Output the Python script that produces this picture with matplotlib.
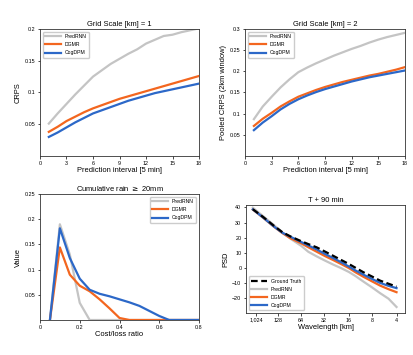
import numpy as np
import matplotlib
matplotlib.use("Agg")
import matplotlib.pyplot as plt

plt.rcParams['font.family'] = ['Liberation Sans', 'DejaVu Sans']

models = ["PredRNN", "DGMR", "CogDPM"]
colors = {"PredRNN": "#c4c4c4", "DGMR": "#f3661f", "CogDPM": "#2c68c8"}

# CRPS, grid scale 1 km
steps = list(range(1, 19))
crps_1km = {
    "PredRNN": [0.051, 0.067, 0.082, 0.097, 0.111, 0.125, 0.135, 0.145, 0.153,
                0.161, 0.168, 0.177, 0.183, 0.189, 0.191, 0.195, 0.198, 0.201],
    "DGMR": [0.038, 0.046, 0.055, 0.062, 0.069, 0.075, 0.080, 0.085, 0.090,
             0.094, 0.098, 0.102, 0.106, 0.110, 0.114, 0.118, 0.122, 0.126],
    "CogDPM": [0.030, 0.037, 0.045, 0.053, 0.060, 0.067, 0.072, 0.077, 0.082,
               0.087, 0.091, 0.095, 0.099, 0.102, 0.105, 0.108, 0.111, 0.114],
}

# Pooled CRPS, grid scale 2 km
crps_2km = {
    "PredRNN": [0.087, 0.117, 0.140, 0.162, 0.181, 0.198, 0.209, 0.219, 0.228,
                0.237, 0.245, 0.253, 0.260, 0.268, 0.275, 0.281, 0.286, 0.291],
    "DGMR": [0.071, 0.088, 0.102, 0.117, 0.129, 0.140, 0.148, 0.156, 0.163,
             0.169, 0.175, 0.180, 0.185, 0.190, 0.194, 0.199, 0.204, 0.210],
    "CogDPM": [0.061, 0.079, 0.094, 0.110, 0.123, 0.134, 0.143, 0.151, 0.158,
               0.164, 0.170, 0.176, 0.181, 0.186, 0.190, 0.194, 0.198, 0.202],
}

# Economic value, cumulative rain >= 20mm
cost_loss = [0.05, 0.1, 0.15, 0.2, 0.25, 0.3, 0.35, 0.4, 0.45, 0.5, 0.55,
             0.6, 0.65, 0.7, 0.75, 0.8]
value = {
    "PredRNN": [0.0, 0.19, 0.13, 0.034, 0.0, 0.0, 0.0, 0.0, 0.0, 0.0, 0.0,
                0.0, 0.0, 0.0, 0.0, 0.0],
    "DGMR": [0.0, 0.144, 0.09, 0.068, 0.057, 0.041, 0.023, 0.004, 0.0, 0.0,
             0.0, 0.0, 0.0, 0.0, 0.0, 0.0],
    "CogDPM": [0.0, 0.182, 0.123, 0.082, 0.06, 0.052, 0.047, 0.041, 0.035,
               0.028, 0.018, 0.008, 0.0, 0.0, 0.0, 0.0],
}

# Power spectral density at T + 90 min
wl_ticks = [0, 0.9, 1.9, 2.86, 3.92, 4.92, 5.94]
wl_labels = ["1,024", "128", "64", "32", "16", "8", "4"]
psd_x = [-0.15, 0.3, 0.73, 1.1, 1.44, 1.9, 2.2, 2.56, 2.9, 3.27, 3.6, 3.92,
         4.2, 4.54, 4.9, 5.24, 5.6, 5.94]
psd = {
    "Ground Truth": [38.8, 33.5, 28.0, 23.6, 20.8, 17.6, 15.7, 13.5, 10.8,
                     7.8, 5.1, 2.5, 0.0, -3.0, -5.8, -8.5, -10.6, -12.5],
    "PredRNN": [39.8, 34.0, 28.5, 23.5, 19.3, 14.5, 10.6, 7.5, 4.8,
                2.0, -0.3, -2.8, -5.5, -9.2, -13.0, -16.8, -20.5, -26.0],
    "DGMR": [38.6, 33.0, 27.4, 23.0, 19.6, 16.2, 13.6, 10.6, 7.8,
             5.0, 2.4, -0.2, -3.0, -6.0, -9.0, -11.8, -14.2, -16.2],
    "CogDPM": [38.7, 33.1, 27.5, 23.2, 20.6, 17.1, 14.8, 12.1, 9.2,
               6.3, 3.6, 0.8, -1.8, -4.6, -7.4, -10.0, -12.0, -13.5],
}

tick_fs = 3.9
label_fs = 5.4
title_fs = 5.4
leg_fs = 3.7
lw = 1.6


def style(ax):
    ax.tick_params(labelsize=tick_fs, length=1.8, width=0.5, pad=1.5)
    for s in ax.spines.values():
        s.set_linewidth(0.6)
        s.set_color("#333333")


def add_legend(ax, loc):
    ax.legend(loc=loc, fontsize=leg_fs, handlelength=3, borderpad=0.5,
              labelspacing=0.6, framealpha=1, edgecolor="#cccccc")


fig = plt.figure(figsize=(4.14, 3.55), dpi=100)

# top left
ax = fig.add_axes([0.0966, 0.5606, 0.3841, 0.3577])
for m in models:
    ax.plot(steps, crps_1km[m], color=colors[m], lw=lw, label=m)
ax.set_xlim(0, 18)
ax.set_ylim(0, 0.2)
ax.set_xticks([0, 3, 6, 9, 12, 15, 18])
ax.set_yticks([0.05, 0.1, 0.15, 0.2])
ax.set_yticklabels(["0.05", "0.1", "0.15", "0.2"])
ax.set_title("Grid Scale [km] = 1", fontsize=title_fs, pad=2)
ax.set_xlabel("Prediction interval [5 min]", fontsize=label_fs, labelpad=1)
ax.set_ylabel("CRPS", fontsize=label_fs, labelpad=2)
add_legend(ax, "upper left")
style(ax)

# top right
ax = fig.add_axes([0.5918, 0.5606, 0.3865, 0.3577])
for m in models:
    ax.plot(steps, crps_2km[m], color=colors[m], lw=lw, label=m)
ax.set_xlim(0, 18)
ax.set_ylim(0, 0.3)
ax.set_xticks([0, 3, 6, 9, 12, 15, 18])
ax.set_yticks([0.05, 0.1, 0.15, 0.2, 0.25, 0.3])
ax.set_yticklabels(["0.05", "0.1", "0.15", "0.2", "0.25", "0.3"])
ax.set_title("Grid Scale [km] = 2", fontsize=title_fs, pad=2)
ax.set_xlabel("Prediction interval [5 min]", fontsize=label_fs, labelpad=1)
ax.set_ylabel("Pooled CRPS (2km window)", fontsize=label_fs, labelpad=2)
add_legend(ax, "upper left")
style(ax)

# bottom left
ax = fig.add_axes([0.0966, 0.0986, 0.3841, 0.3549])
for m in models:
    ax.plot(cost_loss, value[m], color=colors[m], lw=lw, label=m)
ax.set_xlim(0, 0.8)
ax.set_ylim(0, 0.25)
ax.set_xticks([0, 0.2, 0.4, 0.6, 0.8])
ax.set_xticklabels(["0", "0.2", "0.4", "0.6", "0.8"])
ax.set_yticks([0.05, 0.1, 0.15, 0.2, 0.25])
ax.set_yticklabels(["0.05", "0.1", "0.15", "0.2", "0.25"])
ax.set_title("Cumulative rain $\\geq$ 20mm", fontsize=title_fs, pad=2)
ax.set_xlabel("Cost/loss ratio", fontsize=label_fs, labelpad=1)
ax.set_ylabel("Value", fontsize=label_fs, labelpad=2)
add_legend(ax, "upper right")
style(ax)

# bottom right
ax = fig.add_axes([0.5942, 0.1183, 0.3841, 0.3042])
ax.plot(psd_x, psd["Ground Truth"], color="black", lw=lw, ls=(0, (3, 1.6)),
        label="Ground Truth", zorder=5)
for m in models:
    ax.plot(psd_x, psd[m], color=colors[m], lw=lw, label=m)
ax.set_xlim(-0.44, 6.3)
ax.set_ylim(-30, 41.6)
ax.set_xticks(wl_ticks)
ax.set_xticklabels(wl_labels)
ax.set_yticks([-20, -10, 0, 10, 20, 30, 40])
ax.set_title("T + 90 min", fontsize=title_fs, pad=2)
ax.set_xlabel("Wavelength [km]", fontsize=label_fs, labelpad=1)
ax.set_ylabel("PSD", fontsize=label_fs, labelpad=2)
add_legend(ax, "lower left")
style(ax)

fig.savefig("out.png", dpi=100)
